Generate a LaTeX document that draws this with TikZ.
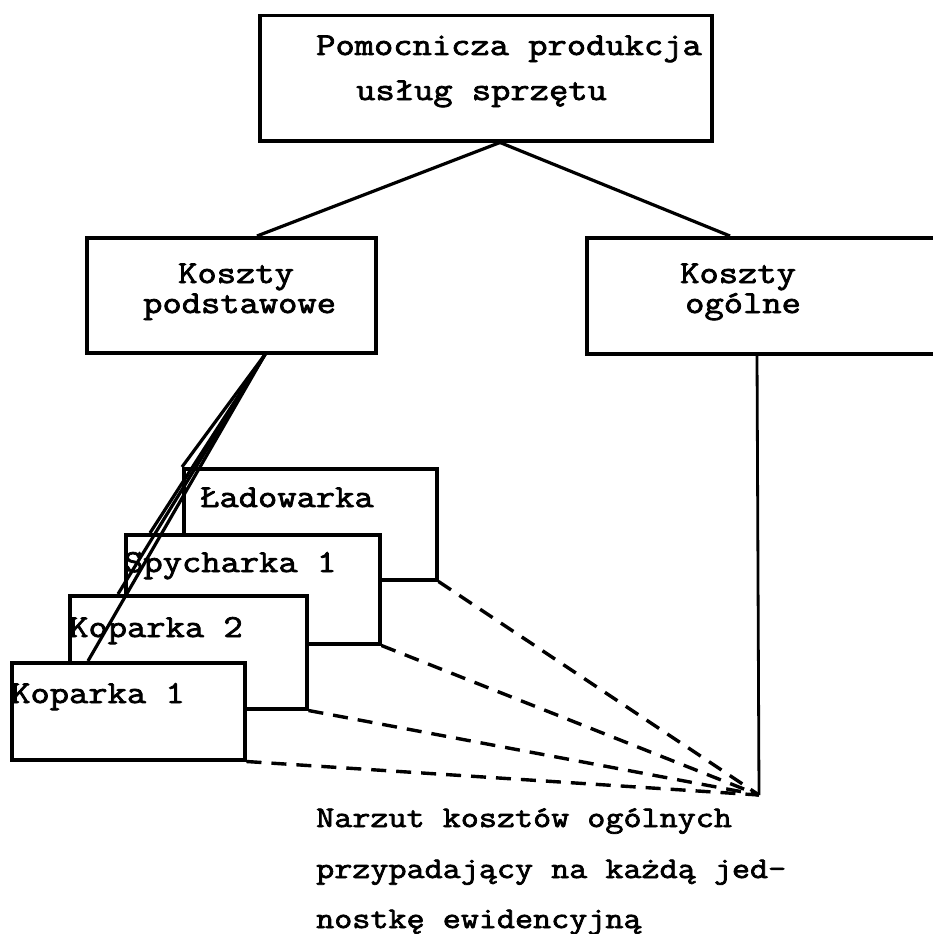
\documentclass[tikz,border=0pt]{standalone}
\usepackage{fontspec}
% slab-serif typewriter face, widened to a typewriter pitch
\setmonofont{Latin Modern Mono}[FakeStretch=1.17,FakeBold=2.4]
\begin{document}
\begin{tikzpicture}[x=1pt,y=-1pt,
  box/.style={draw,line width=3.5pt,fill=white,inner sep=0pt,anchor=north west},
  lbl/.style={anchor=base west,inner sep=0pt,font=\ttfamily\fontsize{32}{38}\selectfont},
  note/.style={anchor=base west,inner sep=0pt,font=\ttfamily\fontsize{30}{36}\selectfont},
  link/.style={line width=3.2pt},
  share/.style={line width=3.4pt,dash pattern=on 15pt off 10pt}]
\useasboundingbox (0,0) rectangle (933,934);
\clip (0,0) rectangle (933,934);

% top level
\node[box,minimum width=452pt,minimum height=125pt] (main) at (258,14) {};
\node[lbl] (mainA) at (316,55) {Pomocnicza produkcja};
\node[lbl] (mainB) at (356,100) {usług sprzętu};

% cost groups
\node[box,minimum width=289pt,minimum height=115pt] (basic) at (85,236) {};
\node[lbl] (basicA) at (178,283) {Koszty};
\node[lbl] (basicB) at (143,313) {podstawowe};

\node[box,minimum width=400pt,minimum height=116pt] (overhead) at (585,236) {};
\node[lbl] (overheadA) at (680,283) {Koszty};
\node[lbl] (overheadB) at (685,313) {ogólne};

\draw[link] ([xshift=242pt]main.south west) -- ([xshift=172pt]basic.north west);
\draw[link] ([xshift=242pt]main.south west) -- ([xshift=145pt]overhead.north west);

% stacked equipment units, back to front
\node[box,minimum width=253pt,minimum height=111pt] (loader) at (182,467) {};
\node[lbl] (loaderT) at (200,507) {Ładowarka};
\node[box,minimum width=254pt,minimum height=109pt] (dozer) at (124,533) {};
\node[lbl] (dozerT) at (124,572) {Spycharka 1};
\node[box,minimum width=237pt,minimum height=113pt] (exc2) at (68,594) {};
\node[lbl] (exc2T) at (69,637) {Koparka 2};
\node[box,minimum width=233pt,minimum height=97pt] (exc1) at (10,661) {};
\node[lbl] (exc1T) at (11,703) {Koparka 1};

% direct costs assigned to every unit
\draw[link] ([xshift=180pt]basic.south west) -- (loader.north west);
\draw[link] ([xshift=180pt]basic.south west) -- ([xshift=26pt]dozer.north west);
\draw[link] ([xshift=180pt]basic.south west) -- ([xshift=50pt]exc2.north west);
\draw[link] ([xshift=180pt]basic.south west) -- ([xshift=78pt]exc1.north west);

% overhead share
\coordinate (sink) at (759,795);
\draw[line width=2.8pt] ([xshift=172pt]overhead.south west) -- (sink);
\draw[share] (loader.south east) -- (sink);
\draw[share] (dozer.south east) -- (sink);
\draw[share] (exc2.south east) -- (sink);
\draw[share] (exc1.south east) -- (sink);

\node[note] (noteA) at (316,827) {Narzut kosztów ogólnych};
\node[note] (noteB) at (316,878) {przypadający na każdą jed-};
\node[note] (noteC) at (316,928) {nostkę ewidencyjną};
\end{tikzpicture}
\end{document}
